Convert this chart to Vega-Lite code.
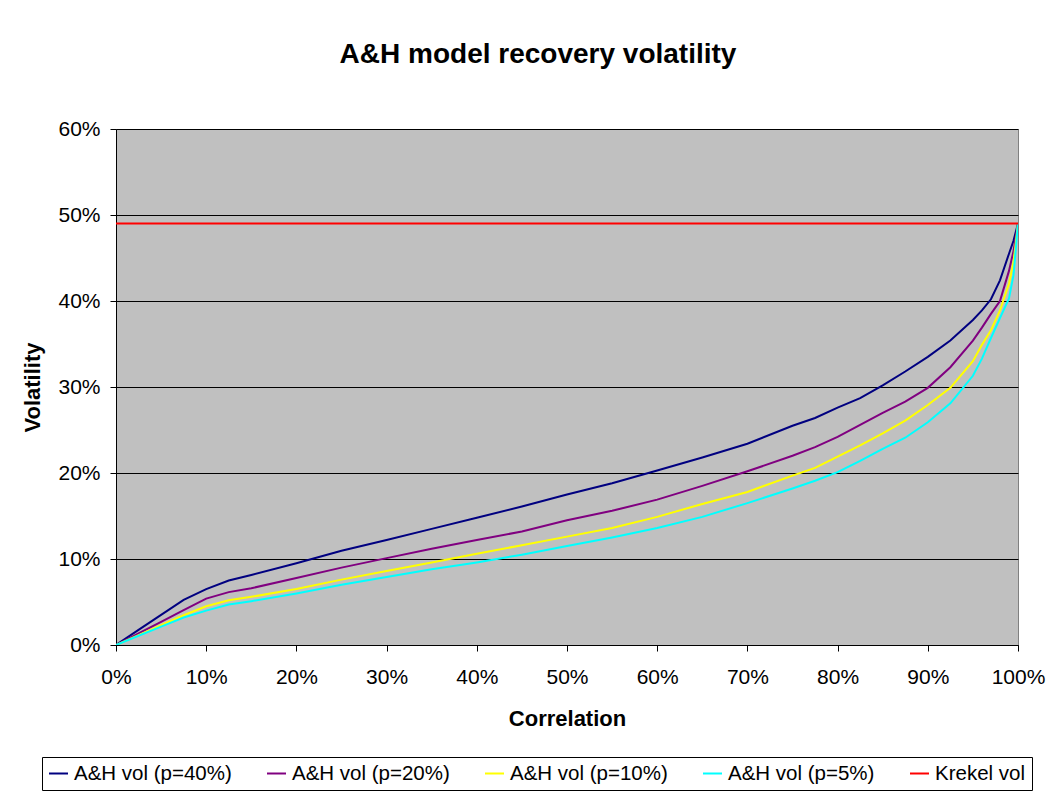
{
  "$schema": "https://vega.github.io/schema/vega-lite/v6.json",
  "width": 902,
  "height": 516,
  "autosize": {"type": "none"},
  "padding": {"left": 116, "top": 129, "right": 44, "bottom": 149},
  "background": "white",
  "config": {
    "font": "Liberation Sans",
    "view": {"fill": "#C0C0C0", "stroke": "#808080", "strokeWidth": 1}
  },
  "title": {
    "text": "A&H model recovery volatility",
    "font": "Liberation Sans",
    "fontSize": 28,
    "fontWeight": "bold",
    "color": "black",
    "anchor": "middle",
    "frame": "group",
    "baseline": "alphabetic",
    "offset": 27,
    "dx": -29
  },
  "data": {
    "values": [
      {"s": "A&H vol (p=40%)", "c": 0, "v": 0},
      {"s": "A&H vol (p=40%)", "c": 2.5, "v": 1.75},
      {"s": "A&H vol (p=40%)", "c": 5, "v": 3.5},
      {"s": "A&H vol (p=40%)", "c": 7.5, "v": 5.25},
      {"s": "A&H vol (p=40%)", "c": 10, "v": 6.5},
      {"s": "A&H vol (p=40%)", "c": 12.5, "v": 7.5},
      {"s": "A&H vol (p=40%)", "c": 15, "v": 8.15},
      {"s": "A&H vol (p=40%)", "c": 20, "v": 9.5},
      {"s": "A&H vol (p=40%)", "c": 25, "v": 10.95},
      {"s": "A&H vol (p=40%)", "c": 30, "v": 12.2},
      {"s": "A&H vol (p=40%)", "c": 35, "v": 13.5},
      {"s": "A&H vol (p=40%)", "c": 40, "v": 14.8},
      {"s": "A&H vol (p=40%)", "c": 45, "v": 16.1},
      {"s": "A&H vol (p=40%)", "c": 50, "v": 17.5},
      {"s": "A&H vol (p=40%)", "c": 55, "v": 18.8},
      {"s": "A&H vol (p=40%)", "c": 60, "v": 20.3},
      {"s": "A&H vol (p=40%)", "c": 65, "v": 21.8},
      {"s": "A&H vol (p=40%)", "c": 70, "v": 23.4},
      {"s": "A&H vol (p=40%)", "c": 75, "v": 25.5},
      {"s": "A&H vol (p=40%)", "c": 77.5, "v": 26.4},
      {"s": "A&H vol (p=40%)", "c": 80, "v": 27.6},
      {"s": "A&H vol (p=40%)", "c": 82.5, "v": 28.7},
      {"s": "A&H vol (p=40%)", "c": 85, "v": 30.2},
      {"s": "A&H vol (p=40%)", "c": 87.5, "v": 31.8},
      {"s": "A&H vol (p=40%)", "c": 90, "v": 33.5},
      {"s": "A&H vol (p=40%)", "c": 92.5, "v": 35.4},
      {"s": "A&H vol (p=40%)", "c": 95, "v": 37.8},
      {"s": "A&H vol (p=40%)", "c": 96, "v": 38.9},
      {"s": "A&H vol (p=40%)", "c": 97, "v": 40.2},
      {"s": "A&H vol (p=40%)", "c": 98, "v": 42.4},
      {"s": "A&H vol (p=40%)", "c": 99, "v": 45.5},
      {"s": "A&H vol (p=40%)", "c": 99.5, "v": 47},
      {"s": "A&H vol (p=40%)", "c": 100, "v": 49},
      {"s": "A&H vol (p=20%)", "c": 0, "v": 0},
      {"s": "A&H vol (p=20%)", "c": 2.5, "v": 1.35},
      {"s": "A&H vol (p=20%)", "c": 5, "v": 2.7},
      {"s": "A&H vol (p=20%)", "c": 7.5, "v": 4.05},
      {"s": "A&H vol (p=20%)", "c": 10, "v": 5.4},
      {"s": "A&H vol (p=20%)", "c": 12.5, "v": 6.15},
      {"s": "A&H vol (p=20%)", "c": 15, "v": 6.6},
      {"s": "A&H vol (p=20%)", "c": 20, "v": 7.8},
      {"s": "A&H vol (p=20%)", "c": 25, "v": 9.0},
      {"s": "A&H vol (p=20%)", "c": 30, "v": 10.1},
      {"s": "A&H vol (p=20%)", "c": 35, "v": 11.2},
      {"s": "A&H vol (p=20%)", "c": 40, "v": 12.2},
      {"s": "A&H vol (p=20%)", "c": 45, "v": 13.2},
      {"s": "A&H vol (p=20%)", "c": 50, "v": 14.5},
      {"s": "A&H vol (p=20%)", "c": 55, "v": 15.6},
      {"s": "A&H vol (p=20%)", "c": 60, "v": 16.9},
      {"s": "A&H vol (p=20%)", "c": 65, "v": 18.5},
      {"s": "A&H vol (p=20%)", "c": 70, "v": 20.2},
      {"s": "A&H vol (p=20%)", "c": 75, "v": 22.0},
      {"s": "A&H vol (p=20%)", "c": 77.5, "v": 23.0},
      {"s": "A&H vol (p=20%)", "c": 80, "v": 24.2},
      {"s": "A&H vol (p=20%)", "c": 82.5, "v": 25.6},
      {"s": "A&H vol (p=20%)", "c": 85, "v": 27.0},
      {"s": "A&H vol (p=20%)", "c": 87.5, "v": 28.3},
      {"s": "A&H vol (p=20%)", "c": 90, "v": 29.9},
      {"s": "A&H vol (p=20%)", "c": 92.5, "v": 32.3},
      {"s": "A&H vol (p=20%)", "c": 95, "v": 35.4},
      {"s": "A&H vol (p=20%)", "c": 96, "v": 36.9},
      {"s": "A&H vol (p=20%)", "c": 97, "v": 38.5},
      {"s": "A&H vol (p=20%)", "c": 98, "v": 40.0},
      {"s": "A&H vol (p=20%)", "c": 99, "v": 43.5},
      {"s": "A&H vol (p=20%)", "c": 99.5, "v": 45.8},
      {"s": "A&H vol (p=20%)", "c": 100, "v": 49},
      {"s": "A&H vol (p=10%)", "c": 0, "v": 0},
      {"s": "A&H vol (p=10%)", "c": 2.5, "v": 1.15},
      {"s": "A&H vol (p=10%)", "c": 5, "v": 2.3},
      {"s": "A&H vol (p=10%)", "c": 7.5, "v": 3.46},
      {"s": "A&H vol (p=10%)", "c": 10, "v": 4.5},
      {"s": "A&H vol (p=10%)", "c": 12.5, "v": 5.2},
      {"s": "A&H vol (p=10%)", "c": 15, "v": 5.6},
      {"s": "A&H vol (p=10%)", "c": 20, "v": 6.5},
      {"s": "A&H vol (p=10%)", "c": 25, "v": 7.6},
      {"s": "A&H vol (p=10%)", "c": 30, "v": 8.6},
      {"s": "A&H vol (p=10%)", "c": 35, "v": 9.6},
      {"s": "A&H vol (p=10%)", "c": 40, "v": 10.6},
      {"s": "A&H vol (p=10%)", "c": 45, "v": 11.6},
      {"s": "A&H vol (p=10%)", "c": 50, "v": 12.6},
      {"s": "A&H vol (p=10%)", "c": 55, "v": 13.6},
      {"s": "A&H vol (p=10%)", "c": 60, "v": 14.9},
      {"s": "A&H vol (p=10%)", "c": 65, "v": 16.4},
      {"s": "A&H vol (p=10%)", "c": 70, "v": 17.8},
      {"s": "A&H vol (p=10%)", "c": 75, "v": 19.7},
      {"s": "A&H vol (p=10%)", "c": 77.5, "v": 20.6},
      {"s": "A&H vol (p=10%)", "c": 80, "v": 21.9},
      {"s": "A&H vol (p=10%)", "c": 82.5, "v": 23.2},
      {"s": "A&H vol (p=10%)", "c": 85, "v": 24.6},
      {"s": "A&H vol (p=10%)", "c": 87.5, "v": 26.1},
      {"s": "A&H vol (p=10%)", "c": 90, "v": 27.9},
      {"s": "A&H vol (p=10%)", "c": 92.5, "v": 29.9},
      {"s": "A&H vol (p=10%)", "c": 95, "v": 33.0},
      {"s": "A&H vol (p=10%)", "c": 96, "v": 34.9},
      {"s": "A&H vol (p=10%)", "c": 97, "v": 36.6},
      {"s": "A&H vol (p=10%)", "c": 98, "v": 38.9},
      {"s": "A&H vol (p=10%)", "c": 99, "v": 42},
      {"s": "A&H vol (p=10%)", "c": 99.5, "v": 44.5},
      {"s": "A&H vol (p=10%)", "c": 100, "v": 49},
      {"s": "A&H vol (p=5%)", "c": 0, "v": 0},
      {"s": "A&H vol (p=5%)", "c": 2.5, "v": 1.07},
      {"s": "A&H vol (p=5%)", "c": 5, "v": 2.13},
      {"s": "A&H vol (p=5%)", "c": 7.5, "v": 3.2},
      {"s": "A&H vol (p=5%)", "c": 10, "v": 4.0},
      {"s": "A&H vol (p=5%)", "c": 12.5, "v": 4.7},
      {"s": "A&H vol (p=5%)", "c": 15, "v": 5.1},
      {"s": "A&H vol (p=5%)", "c": 20, "v": 6.0},
      {"s": "A&H vol (p=5%)", "c": 25, "v": 7.0},
      {"s": "A&H vol (p=5%)", "c": 30, "v": 7.9},
      {"s": "A&H vol (p=5%)", "c": 35, "v": 8.8},
      {"s": "A&H vol (p=5%)", "c": 40, "v": 9.6},
      {"s": "A&H vol (p=5%)", "c": 45, "v": 10.5},
      {"s": "A&H vol (p=5%)", "c": 50, "v": 11.5},
      {"s": "A&H vol (p=5%)", "c": 55, "v": 12.5},
      {"s": "A&H vol (p=5%)", "c": 60, "v": 13.6},
      {"s": "A&H vol (p=5%)", "c": 65, "v": 14.9},
      {"s": "A&H vol (p=5%)", "c": 70, "v": 16.5},
      {"s": "A&H vol (p=5%)", "c": 75, "v": 18.2},
      {"s": "A&H vol (p=5%)", "c": 77.5, "v": 19.1},
      {"s": "A&H vol (p=5%)", "c": 80, "v": 20.1},
      {"s": "A&H vol (p=5%)", "c": 82.5, "v": 21.4},
      {"s": "A&H vol (p=5%)", "c": 85, "v": 22.8},
      {"s": "A&H vol (p=5%)", "c": 87.5, "v": 24.1},
      {"s": "A&H vol (p=5%)", "c": 90, "v": 25.9},
      {"s": "A&H vol (p=5%)", "c": 92.5, "v": 28.1},
      {"s": "A&H vol (p=5%)", "c": 95, "v": 31.3},
      {"s": "A&H vol (p=5%)", "c": 96, "v": 33.3},
      {"s": "A&H vol (p=5%)", "c": 97, "v": 35.7},
      {"s": "A&H vol (p=5%)", "c": 98, "v": 38.0},
      {"s": "A&H vol (p=5%)", "c": 99, "v": 40.3},
      {"s": "A&H vol (p=5%)", "c": 99.5, "v": 43},
      {"s": "A&H vol (p=5%)", "c": 100, "v": 49},
      {"s": "Krekel vol", "c": 0, "v": 49},
      {"s": "Krekel vol", "c": 100, "v": 49}
    ]
  },
  "mark": {"type": "line", "strokeWidth": 2, "clip": true},
  "encoding": {
    "x": {
      "field": "c",
      "type": "quantitative",
      "scale": {"domain": [0, 100], "nice": false, "zero": false},
      "axis": {
        "title": "Correlation",
        "values": [0, 10, 20, 30, 40, 50, 60, 70, 80, 90, 100],
        "labelExpr": "datum.value + '%'",
        "grid": false,
        "domainColor": "black",
        "tickColor": "black",
        "tickSize": 6,
        "labelFontSize": 21,
        "labelColor": "black",
        "labelPadding": 15,
        "labelFlush": false,
        "titleFontSize": 22,
        "titleFontWeight": "bold",
        "titleColor": "black",
        "titlePadding": 21
      }
    },
    "y": {
      "field": "v",
      "type": "quantitative",
      "scale": {"domain": [0, 60], "nice": false},
      "axis": {
        "title": "Volatility",
        "values": [0, 10, 20, 30, 40, 50, 60],
        "labelExpr": "datum.value + '%'",
        "grid": true,
        "gridColor": "black",
        "gridOpacity": 1,
        "gridWidth": 1,
        "domainColor": "black",
        "tickColor": "black",
        "tickSize": 6,
        "labelFontSize": 21,
        "labelColor": "black",
        "labelPadding": 10,
        "titleFontSize": 22,
        "titleFontWeight": "bold",
        "titleColor": "black",
        "titlePadding": 13
      }
    },
    "color": {
      "field": "s",
      "type": "nominal",
      "scale": {
        "domain": ["A&H vol (p=40%)", "A&H vol (p=20%)", "A&H vol (p=10%)", "A&H vol (p=5%)", "Krekel vol"],
        "range": ["#000080", "#800080", "#FFFF00", "#00FFFF", "#FF0000"]
      },
      "legend": {
        "title": null,
        "orient": "none",
        "legendX": -74,
        "legendY": 628,
        "direction": "horizontal",
        "columns": 5,
        "symbolType": "stroke",
        "symbolSize": 361,
        "symbolStrokeWidth": 2,
        "labelFontSize": 20.5,
        "labelColor": "black",
        "labelOffset": 5,
        "columnPadding": 31,
        "padding": 6,
        "strokeColor": "black",
        "fillColor": "white"
      }
    },
    "order": {"field": "c", "type": "quantitative"}
  }
}
